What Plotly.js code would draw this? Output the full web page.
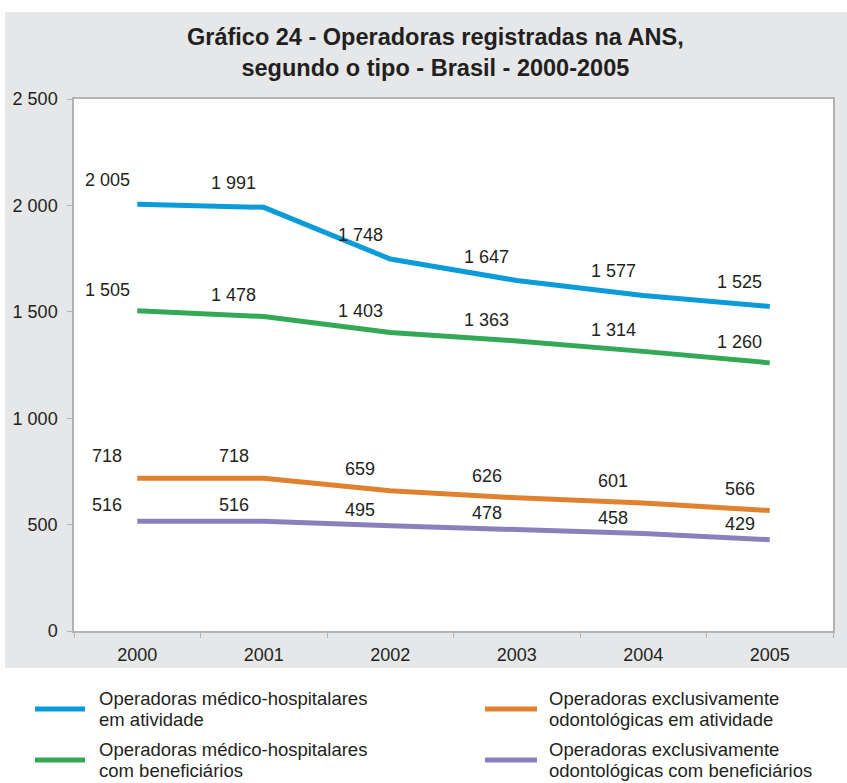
<!DOCTYPE html>
<html>
<head>
<meta charset="utf-8">
<script src="https://cdn.plot.ly/plotly-3.0.1.min.js"></script>
<style>
  html, body { margin: 0; padding: 0; background: #fff; }
  #plot { width: 847px; height: 783px; }
</style>
</head>
<body>
<div id="plot"></div>
<script>
// anos e séries
var anos = ["2000", "2001", "2002", "2003", "2004", "2005"];
var medHospAtiv = [2005, 1991, 1748, 1647, 1577, 1525];
var medHospBenef = [1505, 1478, 1403, 1363, 1314, 1260];
var odontoAtiv = [718, 718, 659, 626, 601, 566];
var odontoBenef = [516, 516, 495, 478, 458, 429];

var nomes = [
  ["Operadoras médico-hospitalares", "em atividade"],
  ["Operadoras médico-hospitalares", "com beneficiários"],
  ["Operadoras exclusivamente", "odontológicas em atividade"],
  ["Operadoras exclusivamente", "odontológicas com beneficiários"]
];
var cores = ["#0b9bd9", "#33a857", "#e0812f", "#8a80bc"];

var series = [medHospAtiv, medHospBenef, odontoAtiv, odontoBenef];
var deslocY = [24, 21, 22, 16];

// geometria (px) da área de plotagem, usada para a legenda desenhada à mão
var W = 847, H = 783, ML = 74, MR = 14, MT = 99, MB = 152;
var pw = W - ML - MR, ph = H - MT - MB;
function px2x(p) { return (p - ML) / pw; }
function px2y(p) { return (H - MB - p) / ph; }

function fmt(v) {
  return String(v).replace(/\B(?=(\d{3})+(?!\d))/g, " ");
}

var traces = series.map(function (s, i) {
  return {
    x: anos,
    y: s,
    name: nomes[i].join(" "),
    type: "scatter",
    mode: "lines",
    line: { color: cores[i], width: 5 },
    showlegend: false,
    hoverinfo: "y"
  };
});

// rótulos de valor: x pelo índice da categoria
var anotacoes = [];
series.forEach(function (s, i) {
  s.forEach(function (v, j) {
    anotacoes.push({
      x: j, y: v, text: fmt(v),
      showarrow: false, xshift: -30, yshift: deslocY[i],
      font: { size: 18, color: "#231f20" }
    });
  });
});

// legenda: duas colunas (médico-hospitalares à esquerda, odontológicas à direita)
var legCol = [[35, 85, 97], [35, 85, 97], [485, 537, 547], [485, 537, 547]];
var legRow = [709, 760, 709, 760];
var formas = [{
  type: "rect", xref: "paper", yref: "paper", layer: "below",
  x0: px2x(5), x1: px2x(847), y0: px2y(668), y1: px2y(12),
  fillcolor: "#e6e7e8", line: { width: 0 }
}, {
  type: "rect", xref: "paper", yref: "paper", layer: "below",
  x0: 0, x1: 1, y0: 0, y1: 1,
  fillcolor: "#ffffff", line: { width: 0 }
}];
nomes.forEach(function (linhas, i) {
  formas.push({
    type: "line", xref: "paper", yref: "paper",
    x0: px2x(legCol[i][0]), x1: px2x(legCol[i][1]),
    y0: px2y(legRow[i]), y1: px2y(legRow[i]),
    line: { color: cores[i], width: 5 }
  });
  linhas.forEach(function (t, k) {
    anotacoes.push({
      xref: "paper", yref: "paper",
      x: px2x(legCol[i][2]), y: px2y(legRow[i] + (k === 0 ? -10.5 : 10.5)),
      xanchor: "left", yanchor: "middle", align: "left",
      text: t, showarrow: false,
      font: { size: 18.5, color: "#231f20" }
    });
  });
});

var layout = {
  width: W,
  height: H,
  separators: ", ",
  font: { family: "Liberation Sans, Arial, sans-serif", size: 18, color: "#231f20" },
  paper_bgcolor: "#ffffff",
  plot_bgcolor: "#ffffff",
  margin: { l: ML, r: MR, t: MT, b: MB },
  showlegend: false,
  title: {
    text: "<b>Gráfico 24 - Operadoras registradas na ANS,<br>segundo o tipo - Brasil - 2000-2005</b>",
    font: { size: 23.5, color: "#231f20" },
    x: 0.514, xanchor: "center",
    y: 0.942, yanchor: "top"
  },
  xaxis: {
    type: "category",
    range: [-0.5, 5.5],
    tickson: "boundaries",
    ticks: "outside", ticklen: 5, tickcolor: "#b3b3b3",
    showline: true, linecolor: "#b3b3b3", linewidth: 1.5, mirror: true,
    showgrid: false, zeroline: false,
    ticklabelstandoff: 7,
    tickfont: { size: 18 }
  },
  yaxis: {
    range: [0, 2500],
    dtick: 500,
    tickformat: ",d",
    ticks: "outside", ticklen: 5, tickcolor: "#b3b3b3",
    showline: true, linecolor: "#b3b3b3", linewidth: 1.5, mirror: true,
    showgrid: false, zeroline: false,
    ticklabelstandoff: 6,
    tickfont: { size: 18 }
  },
  annotations: anotacoes,
  shapes: formas
};

Plotly.newPlot("plot", traces, layout, { displayModeBar: false });
</script>
</body>
</html>
